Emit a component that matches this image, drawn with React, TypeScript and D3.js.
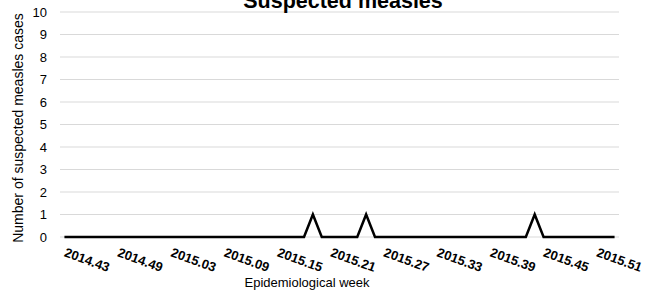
import { useEffect, useRef } from "react";
import * as d3 from "d3";

// Epidemiological weeks (2014.43 – 2015.53)
const weeks = [
  "2014.43", "2014.44", "2014.45", "2014.46", "2014.47", "2014.48", "2014.49", "2014.50", "2014.51", "2014.52",
  "2015.01", "2015.02", "2015.03", "2015.04", "2015.05", "2015.06", "2015.07", "2015.08", "2015.09", "2015.10",
  "2015.11", "2015.12", "2015.13", "2015.14", "2015.15", "2015.16", "2015.17", "2015.18", "2015.19", "2015.20",
  "2015.21", "2015.22", "2015.23", "2015.24", "2015.25", "2015.26", "2015.27", "2015.28", "2015.29", "2015.30",
  "2015.31", "2015.32", "2015.33", "2015.34", "2015.35", "2015.36", "2015.37", "2015.38", "2015.39", "2015.40",
  "2015.41", "2015.42", "2015.43", "2015.44", "2015.45", "2015.46", "2015.47", "2015.48", "2015.49", "2015.50",
  "2015.51", "2015.52", "2015.53",
];

const cases = [
  0, 0, 0, 0, 0, 0, 0, 0, 0, 0,
  0, 0, 0, 0, 0, 0, 0, 0, 0, 0,
  0, 0, 0, 0, 0, 0, 0, 0, 1, 0,
  0, 0, 0, 0, 1, 0, 0, 0, 0, 0,
  0, 0, 0, 0, 0, 0, 0, 0, 0, 0,
  0, 0, 0, 1, 0, 0, 0, 0, 0, 0,
  0, 0, 0,
];

const tickWeeks = [
  "2014.43", "2014.49", "2015.03", "2015.09", "2015.15", "2015.21",
  "2015.27", "2015.33", "2015.39", "2015.45", "2015.51",
];

const yTicks = [0, 1, 2, 3, 4, 5, 6, 7, 8, 9, 10];

const W = 655;
const H = 294;
const FONT = "'Liberation Sans Narrow', 'Arial Narrow', 'Liberation Sans', sans-serif";

export default function App() {
  const svgRef = useRef<SVGSVGElement | null>(null);

  useEffect(() => {
    const svg = d3.select(svgRef.current);
    svg.selectAll("*").remove();

    const margin = { top: 12, right: 36, bottom: 57, left: 60 };

    const x = d3.scalePoint<string>()
      .domain(weeks)
      .range([margin.left, W - margin.right])
      .padding(0.5);

    const y = d3.scaleLinear()
      .domain([0, 10])
      .range([H - margin.bottom, margin.top]);

    // gridlines
    svg.append("g")
      .selectAll("line")
      .data(yTicks)
      .join("line")
      .attr("x1", margin.left)
      .attr("x2", W - margin.right)
      .attr("y1", (d) => y(d))
      .attr("y2", (d) => y(d))
      .attr("stroke", "#d9d9d9")
      .attr("stroke-width", 1);

    // y tick labels
    svg.append("g")
      .selectAll("text")
      .data(yTicks)
      .join("text")
      .attr("x", 47)
      .attr("y", (d) => y(d) + 4.5)
      .attr("text-anchor", "end")
      .attr("font-family", FONT)
      .attr("font-size", 13)
      .attr("fill", "#000")
      .text((d) => d);

    // line
    const line = d3.line<number>()
      .x((d, i) => x(weeks[i]) as number)
      .y((d) => y(d));

    svg.append("path")
      .datum(cases)
      .attr("fill", "none")
      .attr("stroke", "#000")
      .attr("stroke-width", 2.5)
      .attr("stroke-linejoin", "miter")
      .attr("d", line);

    // x tick labels (rotated)
    svg.append("g")
      .selectAll("text")
      .data(tickWeeks)
      .join("text")
      .attr("transform", (d) => `translate(${(x(d) as number) - 1},${256}) rotate(20)`)
      .attr("font-family", FONT)
      .attr("font-size", 13)
      .attr("font-weight", "bold")
      .attr("fill", "#000")
      .text((d) => d);

    // axis titles
    svg.append("text")
      .attr("x", 307)
      .attr("y", 287)
      .attr("text-anchor", "middle")
      .attr("font-family", FONT)
      .attr("font-size", 13)
      .text("Epidemiological week");

    svg.append("text")
      .attr("transform", `translate(23,${128}) rotate(-90)`)
      .attr("text-anchor", "middle")
      .attr("font-family", FONT)
      .attr("font-size", 14)
      .text("Number of suspected measles cases");

    // title (cut at the top edge, as in the source)
    svg.append("text")
      .attr("x", 343)
      .attr("y", 8)
      .attr("text-anchor", "middle")
      .attr("font-family", FONT)
      .attr("font-size", 21.5)
      .attr("font-weight", "bold")
      .text("Suspected measles");
  }, []);

  return (
    <svg
      ref={svgRef}
      width={W}
      height={H}
      style={{ position: "absolute", left: 0, top: 0, background: "#fff" }}
    />
  );
}
